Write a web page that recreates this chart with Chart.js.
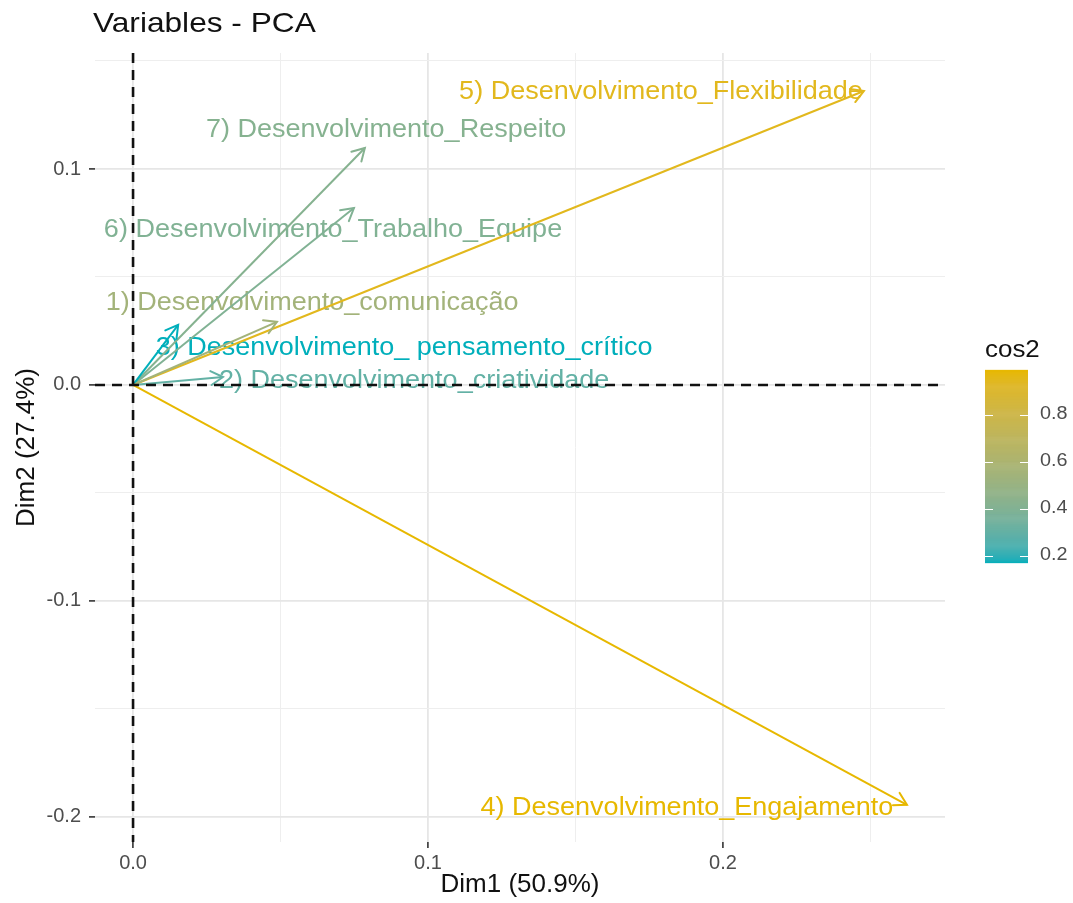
<!DOCTYPE html>
<html>
<head>
<meta charset="utf-8">
<title>Variables - PCA</title>
<script src="https://cdn.jsdelivr.net/npm/chart.js@4.4.1/dist/chart.umd.min.js"></script>
<style>
  html, body { margin: 0; padding: 0; background: #ffffff; }
  #wrap { width: 1073px; height: 903px; }
</style>
</head>
<body>
<div id="wrap"><canvas id="pca"></canvas></div>
<script>
/* === DATA === */
const varNames = [
  "1) Desenvolvimento_comunicação",
  "2) Desenvolvimento_criatividade",
  "3) Desenvolvimento_ pensamento_crítico",
  "4) Desenvolvimento_Engajamento",
  "5) Desenvolvimento_Flexibilidade",
  "6) Desenvolvimento_Trabalho_Equipe",
  "7) Desenvolvimento_Respeito"
];
const dim1 = [0.0488, 0.0305, 0.0153, 0.2624, 0.2478, 0.0749, 0.0786];
const dim2 = [0.0292, 0.0037, 0.0278, -0.1944, 0.1361, 0.0819, 0.1097];
const cos2 = [0.55, 0.30, 0.17, 0.99, 0.95, 0.40, 0.42];

const xGrid = [0, 0.05, 0.1, 0.15, 0.2, 0.25];
const yGrid = [-0.2, -0.15, -0.1, -0.05, 0, 0.05, 0.1, 0.15];
const legendTicks = [0.2, 0.4, 0.6, 0.8];

/* === LAYOUT (label anchors in data units, as placed by the repel) === */
const labelAt = [
  [0.0607, 0.0380],
  [0.0953, 0.0019],
  [0.0919, 0.0171],
  [0.1878, -0.1958],
  [0.1790, 0.1357],
  [0.0678, 0.0718],
  [0.0858, 0.1181]
];

const FONT = '"Liberation Sans", Arial, sans-serif';
const LOW = "#00AFBB";
const HIGH = "#E7B800";

/* === colour scale in Lab, like ggplot === */
function hexToLab(hex) {
  const c = [1, 3, 5].map(i => parseInt(hex.slice(i, i + 2), 16) / 255)
    .map(v => v <= 0.04045 ? v / 12.92 : Math.pow((v + 0.055) / 1.055, 2.4));
  const X = (0.4124564 * c[0] + 0.3575761 * c[1] + 0.1804375 * c[2]) / 0.95047;
  const Y = (0.2126729 * c[0] + 0.7151522 * c[1] + 0.0721750 * c[2]);
  const Z = (0.0193339 * c[0] + 0.1191920 * c[1] + 0.9503041 * c[2]) / 1.08883;
  const f = t => t > 0.008856 ? Math.cbrt(t) : 7.787 * t + 16 / 116;
  return [116 * f(Y) - 16, 500 * (f(X) - f(Y)), 200 * (f(Y) - f(Z))];
}

function labToRgb(L, a, b) {
  const fy = (L + 16) / 116, fx = fy + a / 500, fz = fy - b / 200;
  const inv = t => t * t * t > 0.008856 ? t * t * t : (t - 16 / 116) / 7.787;
  const X = inv(fx) * 0.95047, Y = inv(fy), Z = inv(fz) * 1.08883;
  const lin = [
    3.2404542 * X - 1.5371385 * Y - 0.4985314 * Z,
    -0.9692660 * X + 1.8760108 * Y + 0.0415560 * Z,
    0.0556434 * X - 0.2040259 * Y + 1.0572252 * Z
  ];
  const rgb = lin.map(v => {
    const s = v <= 0.0031308 ? 12.92 * v : 1.055 * Math.pow(v, 1 / 2.4) - 0.055;
    return Math.round(Math.min(1, Math.max(0, s)) * 255);
  });
  return `rgb(${rgb[0]}, ${rgb[1]}, ${rgb[2]})`;
}

const labLow = hexToLab(LOW);
const labHigh = hexToLab(HIGH);
const cosMin = Math.min(...cos2);
const cosMax = Math.max(...cos2);

function cosColor(v) {
  const t = Math.min(1, Math.max(0, (v - cosMin) / (cosMax - cosMin)));
  return labToRgb(
    labLow[0] + (labHigh[0] - labLow[0]) * t,
    labLow[1] + (labHigh[1] - labLow[1]) * t,
    labLow[2] + (labHigh[2] - labLow[2]) * t
  );
}

/* === helpers === */
function stretchText(ctx, text, x, y, size, color, align, sx) {
  ctx.save();
  ctx.font = `${size}px ${FONT}`;
  ctx.fillStyle = color;
  ctx.textAlign = align;
  ctx.textBaseline = "middle";
  ctx.translate(x, y);
  ctx.scale(sx, 1);
  ctx.fillText(text, 0, 0);
  ctx.restore();
}

const isMajor = v => Math.abs(Math.round(v * 10) - v * 10) < 1e-6;

/* === PLUGIN: labels, arrow heads, axes lines, title, colour bar === */
const pcaDecor = {
  id: "pcaDecor",
  beforeDatasetsDraw(chart) {
    const { ctx, scales: { x, y } } = chart;
    varNames.forEach((name, i) => {
      stretchText(ctx, name, x.getPixelForValue(labelAt[i][0]), y.getPixelForValue(labelAt[i][1]),
        25, cosColor(cos2[i]), "center", 1.08);
    });
  },
  afterDatasetsDraw(chart) {
    const { ctx, chartArea: area, scales: { x, y } } = chart;

    // arrow heads
    chart.data.datasets.forEach((ds, i) => {
      const pts = chart.getDatasetMeta(i).data;
      const p0 = pts[0], p1 = pts[1];
      const ang = Math.atan2(p1.y - p0.y, p1.x - p0.x);
      const len = 14, spread = Math.PI / 6;
      ctx.save();
      ctx.strokeStyle = ds.borderColor;
      ctx.lineWidth = 2;
      ctx.lineCap = "round";
      ctx.beginPath();
      ctx.moveTo(p1.x - len * Math.cos(ang - spread), p1.y - len * Math.sin(ang - spread));
      ctx.lineTo(p1.x, p1.y);
      ctx.lineTo(p1.x - len * Math.cos(ang + spread), p1.y - len * Math.sin(ang + spread));
      ctx.stroke();
      ctx.restore();
    });

    // dashed lines through the origin
    const x0 = x.getPixelForValue(0);
    const y0 = y.getPixelForValue(0);
    ctx.save();
    ctx.strokeStyle = "#111111";
    ctx.lineWidth = 2.6;
    ctx.setLineDash([10, 7]);
    ctx.beginPath();
    ctx.moveTo(area.left, y0);
    ctx.lineTo(area.right, y0);
    ctx.moveTo(x0, area.top);
    ctx.lineTo(x0, area.bottom);
    ctx.stroke();
    ctx.restore();
  },
  afterDraw(chart) {
    const { ctx } = chart;

    // title
    stretchText(ctx, "Variables - PCA", 93, 24, 28, "#111111", "left", 1.13);

    // colour bar legend
    const barLeft = 985, barW = 43;
    const vToY = v => 555.5 - (v - 0.2) * 235;
    const top = vToY(cosMax), bottom = vToY(cosMin);
    stretchText(ctx, "cos2", barLeft, 350, 24, "#111111", "left", 1.08);
    const steps = 200;
    for (let k = 0; k < steps; k++) {
      const v0 = cosMin + (cosMax - cosMin) * k / steps;
      const v1 = cosMin + (cosMax - cosMin) * (k + 1) / steps;
      ctx.fillStyle = cosColor((v0 + v1) / 2);
      ctx.fillRect(barLeft, vToY(v1), barW, vToY(v0) - vToY(v1) + 0.6);
    }
    ctx.save();
    ctx.strokeStyle = "#ffffff";
    ctx.lineWidth = 1;
    legendTicks.forEach(v => {
      const ty = Math.round(vToY(v)) + 0.5;
      ctx.beginPath();
      ctx.moveTo(barLeft, ty);
      ctx.lineTo(barLeft + 8, ty);
      ctx.moveTo(barLeft + barW - 8, ty);
      ctx.lineTo(barLeft + barW, ty);
      ctx.stroke();
      stretchText(ctx, v.toFixed(1), barLeft + barW + 12, vToY(v), 18, "#4d4d4d", "left", 1.1);
    });
    ctx.restore();
  }
};

/* === CHART === */
const datasets = varNames.map((name, i) => ({
  label: name,
  data: [{ x: 0, y: 0 }, { x: dim1[i], y: dim2[i] }],
  showLine: true,
  borderColor: cosColor(cos2[i]),
  borderWidth: 2,
  pointRadius: 0,
  pointHoverRadius: 0
}));

const gridStyle = {
  color: c => c.tick && isMajor(c.tick.value) ? "#e6e6e6" : "#eeeeee",
  lineWidth: c => c.tick && isMajor(c.tick.value) ? 1.8 : 1,
  tickColor: c => c.tick && isMajor(c.tick.value) ? "#333333" : "rgba(0,0,0,0)",
  tickWidth: 1.6,
  tickLength: 6,
  drawTicks: true
};

const tickFmt = v => isMajor(v) ? (Math.round(v * 10) / 10).toFixed(1) : "";

new Chart(document.getElementById("pca"), {
  type: "scatter",
  data: { datasets },
  plugins: [pcaDecor],
  options: {
    responsive: true,
    maintainAspectRatio: false,
    animation: false,
    events: [],
    layout: { padding: { left: 0, right: 128, top: 53, bottom: 0 } },
    plugins: {
      legend: { display: false },
      tooltip: { enabled: false },
      title: { display: false }
    },
    scales: {
      x: {
        type: "linear",
        min: -0.0129,
        max: 0.2753,
        afterBuildTicks: s => { s.ticks = xGrid.map(v => ({ value: v })); },
        afterFit: s => { s.height = 61; },
        border: { display: false },
        grid: gridStyle,
        ticks: {
          callback: tickFmt,
          autoSkip: false,
          maxRotation: 0,
          padding: 3,
          color: "#4d4d4d",
          font: { family: FONT, size: 20 }
        },
        title: {
          display: true,
          text: "Dim1 (50.9%)",
          color: "#111111",
          font: { family: FONT, size: 26 },
          padding: { top: 0, bottom: 3 }
        }
      },
      y: {
        type: "linear",
        min: -0.2116,
        max: 0.1537,
        afterBuildTicks: s => { s.ticks = yGrid.map(v => ({ value: v })); },
        afterFit: s => { s.width = 95; },
        border: { display: false },
        grid: gridStyle,
        ticks: {
          callback: tickFmt,
          autoSkip: false,
          padding: 8,
          color: "#4d4d4d",
          font: { family: FONT, size: 20 }
        },
        title: {
          display: true,
          text: "Dim2 (27.4%)",
          color: "#111111",
          font: { family: FONT, size: 26 },
          padding: { top: 11, bottom: 0 }
        }
      }
    }
  }
});
</script>
</body>
</html>
